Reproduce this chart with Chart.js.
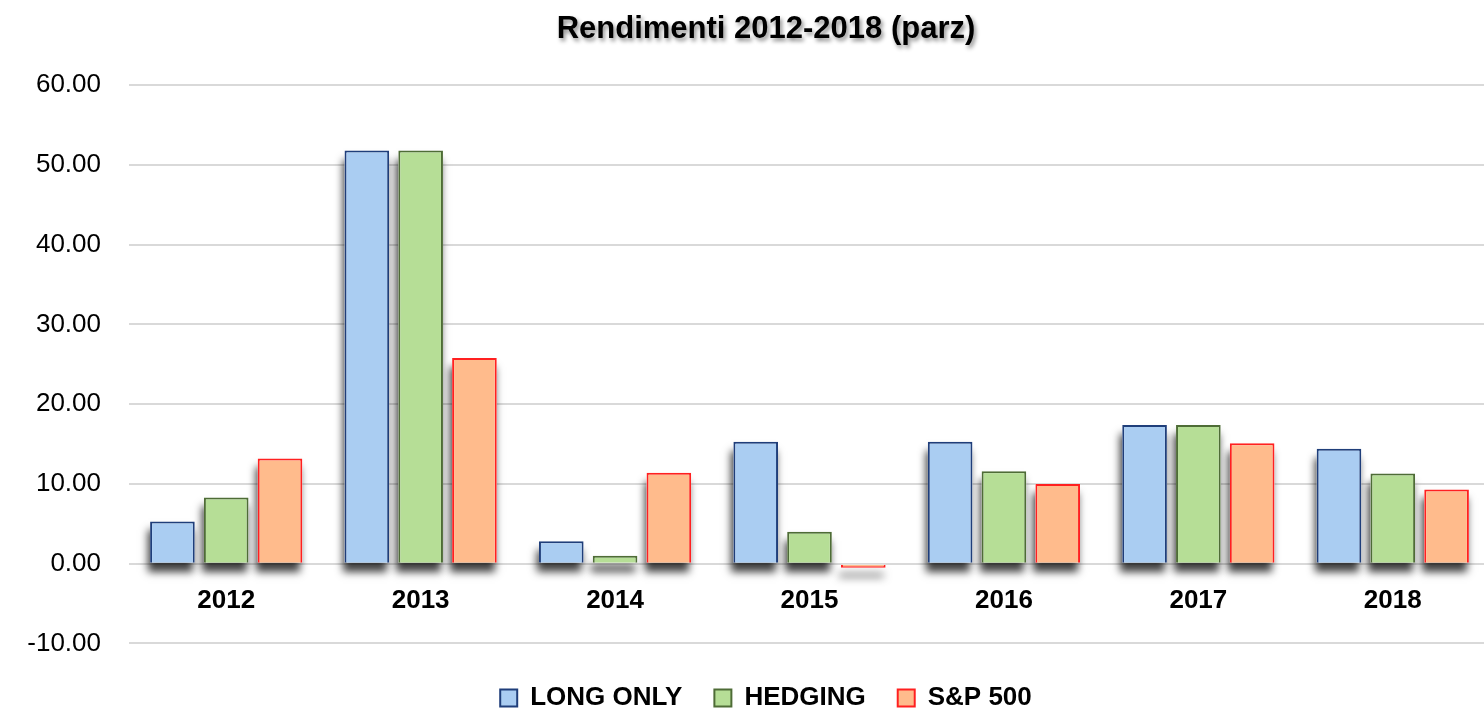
<!DOCTYPE html>
<html>
<head>
<meta charset="utf-8">
<script src="https://cdn.jsdelivr.net/npm/chart.js@4/dist/chart.umd.min.js"></script>
<style>
  html, body { margin: 0; padding: 0; background: #fff; overflow: hidden; }
  #wrap { position: relative; width: 1532px; height: 721px; }
</style>
</head>
<body>
<div id="wrap"><canvas id="barChart"></canvas></div>
<script>
// data
const years = ['2012', '2013', '2014', '2015', '2016', '2017', '2018'];
const longOnly = [5.3, 51.8, 2.8, 15.3, 15.3, 17.4, 14.4];
const hedging  = [8.3, 51.8, 1.0, 4.0, 11.6, 17.4, 11.3];
const sp500    = [13.2, 25.8, 11.4, -0.5, 10.0, 15.1, 9.3];
const seriesNames = ['LONG ONLY', 'HEDGING', 'S&P 500'];
const yMin = -10, yMax = 60, yStep = 10;

const sans = "'Liberation Sans', Arial, sans-serif";

// dark blurred shadow under each bar (bar element clips its own drawing,
// so the shadow is painted first from the element's own geometry)
const barShadow = {
    id: 'barShadow',
    beforeDatasetsDraw: function(chart) {
        const ctx = chart.ctx;
        ctx.save();
        ctx.shadowColor = 'rgba(0,0,0,0.75)';
        ctx.shadowBlur = 8;
        ctx.shadowOffsetX = -2;
        ctx.shadowOffsetY = 9;
        ctx.fillStyle = '#fff';
        chart.data.datasets.forEach(function(ds, i) {
            const meta = chart.getDatasetMeta(i);
            meta.data.forEach(function(bar) {
                const p = bar.getProps(['x', 'y', 'base', 'width'], true);
                const top = Math.min(p.y, p.base);
                const h = Math.abs(p.base - p.y);
                ctx.fillRect(p.x - p.width / 2, top, p.width, h);
            });
        });
        ctx.restore();
    }
};

// soft shadow behind the title text
const titleShadow = {
    id: 'titleShadow',
    afterInit: function(chart) {
        const t = chart.titleBlock;
        if (!t) return;
        const orig = t.draw.bind(t);
        t.draw = function() {
            const ctx = chart.ctx;
            ctx.save();
            ctx.shadowColor = 'rgba(0,0,0,0.45)';
            ctx.shadowBlur = 4;
            ctx.shadowOffsetX = 2;
            ctx.shadowOffsetY = 3;
            orig.apply(null, arguments);
            ctx.restore();
        };
    }
};

const canvas = document.getElementById('barChart');
new Chart(canvas, {
    type: 'bar',
    data: {
        labels: years,
        datasets: [
            { label: seriesNames[0], data: longOnly, backgroundColor: 'rgb(170,205,242)', borderColor: 'rgb(31,62,122)', borderWidth: 2 },
            { label: seriesNames[1], data: hedging,  backgroundColor: 'rgb(182,222,150)', borderColor: 'rgb(78,108,54)',  borderWidth: 2 },
            { label: seriesNames[2], data: sp500,    backgroundColor: 'rgb(255,187,140)', borderColor: 'rgb(255,32,32)',  borderWidth: 2 }
        ]
    },
    options: {
        responsive: true,
        maintainAspectRatio: false,
        animation: false,
        categoryPercentage: 0.83,
        barPercentage: 0.83,
        layout: { padding: { left: 42, right: 42, top: 0, bottom: 0 } },
        plugins: {
            title: {
                display: true,
                text: 'Rendimenti 2012-2018 (parz)',
                color: '#000',
                font: { family: sans, size: 31, weight: 'bold' },
                padding: { top: 11, bottom: 37 }
            },
            legend: {
                position: 'bottom',
                title: { display: true, text: '', font: { size: 8 }, padding: 0 },
                labels: {
                    color: '#000',
                    font: { family: sans, size: 26, weight: 'bold' },
                    boxWidth: 17,
                    boxHeight: 17,
                    padding: 32
                }
            },
            tooltip: { enabled: false }
        },
        scales: {
            x: {
                position: { y: 0 },
                grid: { display: false, drawTicks: false },
                border: { display: false },
                ticks: {
                    color: '#000',
                    font: { family: sans, size: 26, weight: 'bold' },
                    padding: 22
                }
            },
            y: {
                min: yMin,
                max: yMax,
                // narrower axis box so the plot starts where the original does;
                // the labels are allowed to run past the box's left edge
                afterFit: function(scale) {
                    scale.width = 87;
                    scale._computeLabelArea = function() { return undefined; };
                },
                grid: { color: '#d9d9d9', lineWidth: 2, drawTicks: false },
                border: { display: false },
                ticks: {
                    stepSize: yStep,
                    color: '#000',
                    padding: 28,
                    font: { family: sans, size: 26 },
                    callback: function(value) { return value.toFixed(2); }
                }
            }
        }
    },
    plugins: [barShadow, titleShadow]
});
</script>
</body>
</html>
